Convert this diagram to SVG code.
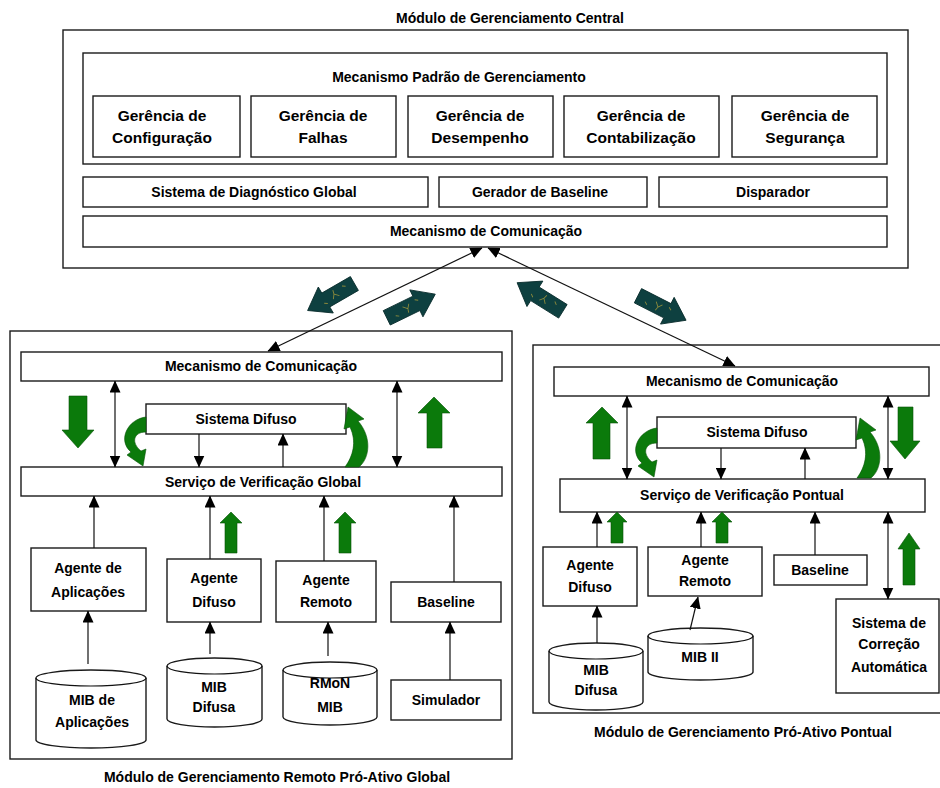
<svg xmlns="http://www.w3.org/2000/svg" width="940" height="788" viewBox="0 0 940 788">
  <style>
    .box { fill: #ffffff; stroke: #1a1a1a; stroke-width: 1.4; }
    .frame { fill: none; stroke: #1a1a1a; stroke-width: 1.4; }
    .lbl { font-family: "Liberation Sans", Arial, sans-serif; font-size: 14px; font-weight: bold; fill: #000; text-anchor: middle; }
    .big { font-size: 15.5px; }
    .ln { fill: none; stroke: #111; stroke-width: 1.2; }
    .g { fill: #0b7a0b; stroke: #075207; stroke-width: 0.6; }
    .dk { fill: #0e4040; stroke: #072a2a; stroke-width: 0.8; }
    .spk { fill: none; stroke: #8c8a3c; stroke-width: 0.9; }
  </style>
  <defs>
    <marker id="ah" markerUnits="userSpaceOnUse" markerWidth="12" markerHeight="11" viewBox="0 0 12 11" refX="11.5" refY="5.5" orient="auto-start-reverse">
      <path d="M0,0 L12,5.5 L0,11 Z" fill="#000"/>
    </marker>
    <g id="darr">
      <polygon class="dk" points="-27,-8 6,-8 6,-15 27,0 6,15 6,8 -27,8"/>
      <path class="spk" d="M-8,-3 L-4,1 L-1,-3 M-4,1 L-5,5 M6,-4 L9,-2 M-18,2 L-15,4"/>
    </g>
    <path id="curl-down" class="g" d="M146,417 C128,419 117,440 131,452 L127,455 L143,466 L146,449 L141,451 C131,443 133,432 146,432 Z"/>
    <path id="curl-up" class="g" d="M345,467 C353,456 357,442 350,427 L344,429 L348,407 L364,419 L358,421 C372,437 370,458 359,467 Z"/>
  </defs>

  <!-- Central management module -->
  <g id="central">
    <text class="lbl" x="510" y="23">Módulo de Gerenciamento Central</text>
    <rect class="frame" x="63" y="30" width="845" height="238"/>
  </g>
  <g id="padrao">
    <rect class="box" x="83" y="53" width="804" height="111"/>
    <text class="lbl" x="459" y="82">Mecanismo Padrão de Gerenciamento</text>
  </g>
  <g id="ger-config">
    <rect class="box" x="93" y="96" width="147" height="61"/>
    <text class="lbl big" x="162" y="121">Gerência de</text>
    <text class="lbl big" x="162" y="143">Configuração</text>
  </g>
  <g id="ger-falhas">
    <rect class="box" x="251" y="96" width="145" height="61"/>
    <text class="lbl big" x="323" y="121">Gerência de</text>
    <text class="lbl big" x="323" y="143">Falhas</text>
  </g>
  <g id="ger-desempenho">
    <rect class="box" x="408" y="96" width="145" height="61"/>
    <text class="lbl big" x="480" y="121">Gerência de</text>
    <text class="lbl big" x="480" y="143">Desempenho</text>
  </g>
  <g id="ger-contab">
    <rect class="box" x="564" y="96" width="155" height="61"/>
    <text class="lbl big" x="641" y="121">Gerência de</text>
    <text class="lbl big" x="641" y="143">Contabilização</text>
  </g>
  <g id="ger-seguranca">
    <rect class="box" x="732" y="96" width="145" height="61"/>
    <text class="lbl big" x="805" y="121">Gerência de</text>
    <text class="lbl big" x="805" y="143">Segurança</text>
  </g>
  <g id="diag-global">
    <rect class="box" x="83" y="177" width="345" height="30"/>
    <text class="lbl" x="254" y="197">Sistema de Diagnóstico Global</text>
  </g>
  <g id="gerador-baseline">
    <rect class="box" x="439" y="177" width="208" height="30"/>
    <text class="lbl" x="540" y="197">Gerador de Baseline</text>
  </g>
  <g id="disparador">
    <rect class="box" x="659" y="177" width="228" height="30"/>
    <text class="lbl" x="773" y="197">Disparador</text>
  </g>
  <g id="central-com">
    <rect class="box" x="83" y="216" width="804" height="31"/>
    <text class="lbl" x="486" y="236">Mecanismo de Comunicação</text>
  </g>

  <!-- Remote proactive global module -->
  <g id="remoto-global">
    <rect class="frame" x="10" y="331" width="502" height="428"/>
    <text class="lbl" x="277" y="782">Módulo de Gerenciamento Remoto Pró-Ativo Global</text>
  </g>
  <g id="rg-com">
    <rect class="box" x="21" y="352" width="481" height="29"/>
    <text class="lbl" x="261" y="371">Mecanismo de Comunicação</text>
  </g>
  <g id="rg-difuso">
    <rect class="box" x="146" y="404" width="200" height="30"/>
    <text class="lbl" x="246" y="424">Sistema Difuso</text>
  </g>
  <g id="rg-servico">
    <rect class="box" x="21" y="467" width="481" height="29"/>
    <text class="lbl" x="263" y="487">Serviço de Verificação Global</text>
  </g>
  <g id="rg-agente-apl">
    <rect class="box" x="31" y="548" width="115" height="63"/>
    <text class="lbl" x="88" y="573">Agente de</text>
    <text class="lbl" x="88" y="597">Aplicações</text>
  </g>
  <g id="rg-mib-apl">
    <path class="box" d="M36,678 A55,8 0 0 1 146,678 V740 A55,8 0 0 1 36,740 Z"/>
    <path class="ln" d="M36,678 A55,8 0 0 0 146,678" stroke-width="1.4"/>
    <text class="lbl" x="92" y="705">MIB de</text>
    <text class="lbl" x="92" y="727">Aplicações</text>
  </g>
  <g id="rg-agente-dif">
    <rect class="box" x="167" y="559" width="94" height="63"/>
    <text class="lbl" x="214" y="583">Agente</text>
    <text class="lbl" x="214" y="607">Difuso</text>
  </g>
  <g id="rg-mib-dif">
    <path class="box" d="M167,666 A47.5,8 0 0 1 262,666 V719 A47.5,8 0 0 1 167,719 Z"/>
    <path class="ln" d="M167,666 A47.5,8 0 0 0 262,666" stroke-width="1.4"/>
    <text class="lbl" x="214" y="692">MIB</text>
    <text class="lbl" x="214" y="712">Difusa</text>
  </g>
  <g id="rg-agente-rem">
    <rect class="box" x="276" y="561" width="100" height="61"/>
    <text class="lbl" x="326" y="585">Agente</text>
    <text class="lbl" x="326" y="607">Remoto</text>
  </g>
  <g id="rg-rmon">
    <path class="box" d="M283,670 A47,8 0 0 1 377,670 V717 A47,8 0 0 1 283,717 Z"/>
    <path class="ln" d="M283,670 A47,8 0 0 0 377,670" stroke-width="1.4"/>
    <text class="lbl" x="330" y="688">RMoN</text>
    <text class="lbl" x="330" y="712">MIB</text>
  </g>
  <g id="rg-baseline">
    <rect class="box" x="391" y="582" width="110" height="40"/>
    <text class="lbl" x="446" y="607">Baseline</text>
  </g>
  <g id="rg-simulador">
    <rect class="box" x="391" y="680" width="110" height="40"/>
    <text class="lbl" x="446" y="705">Simulador</text>
  </g>

  <!-- Proactive local module -->
  <g id="pontual">
    <rect class="frame" x="533" y="345" width="420" height="368"/>
    <text class="lbl" x="743" y="737">Módulo de Gerenciamento Pró-Ativo Pontual</text>
  </g>
  <g id="pp-com">
    <rect class="box" x="554" y="367" width="375" height="29"/>
    <text class="lbl" x="742" y="386">Mecanismo de Comunicação</text>
  </g>
  <g id="pp-difuso">
    <rect class="box" x="657" y="417" width="199" height="31"/>
    <text class="lbl" x="757" y="437">Sistema Difuso</text>
  </g>
  <g id="pp-servico">
    <rect class="box" x="560" y="479" width="365" height="33"/>
    <text class="lbl" x="742" y="500">Serviço de Verificação Pontual</text>
  </g>
  <g id="pp-agente-dif">
    <rect class="box" x="543" y="547" width="94" height="59"/>
    <text class="lbl" x="590" y="570">Agente</text>
    <text class="lbl" x="590" y="592">Difuso</text>
  </g>
  <g id="pp-mib-dif">
    <path class="box" d="M549,651 A47,8 0 0 1 643,651 V702 A47,8 0 0 1 549,702 Z"/>
    <path class="ln" d="M549,651 A47,8 0 0 0 643,651" stroke-width="1.4"/>
    <text class="lbl" x="596" y="675">MIB</text>
    <text class="lbl" x="596" y="695">Difusa</text>
  </g>
  <g id="pp-agente-rem">
    <rect class="box" x="648" y="547" width="114" height="49"/>
    <text class="lbl" x="705" y="565">Agente</text>
    <text class="lbl" x="705" y="586">Remoto</text>
  </g>
  <g id="pp-mib2">
    <path class="box" d="M648,636 A52.5,8 0 0 1 753,636 V672 A52.5,8 0 0 1 648,672 Z"/>
    <path class="ln" d="M648,636 A52.5,8 0 0 0 753,636" stroke-width="1.4"/>
    <text class="lbl" x="700" y="662">MIB II</text>
  </g>
  <g id="pp-baseline">
    <rect class="box" x="774" y="555" width="93" height="30"/>
    <text class="lbl" x="820" y="575">Baseline</text>
  </g>
  <g id="pp-correcao">
    <rect class="box" x="836" y="599" width="103" height="94"/>
    <text class="lbl" x="889" y="628">Sistema de</text>
    <text class="lbl" x="889" y="649">Correção</text>
    <text class="lbl" x="889" y="672">Automática</text>
  </g>

  <!-- Connectors -->
  <g id="connectors">
    <!-- central to modules -->
    <path class="ln" d="M268,351 L482,248" marker-start="url(#ah)" marker-end="url(#ah)" stroke-width="1"/>
    <path class="ln" d="M488,248 L735,366" marker-start="url(#ah)" marker-end="url(#ah)" stroke-width="1"/>

    <!-- remote global module -->
    <path class="ln" d="M115,381 V467" marker-start="url(#ah)" marker-end="url(#ah)"/>
    <path class="ln" d="M397,381 V467" marker-start="url(#ah)" marker-end="url(#ah)"/>
    <path class="ln" d="M199,434 V467" marker-end="url(#ah)"/>
    <path class="ln" d="M283,467 V434" marker-end="url(#ah)"/>
    <path class="ln" d="M94,548 V496" marker-end="url(#ah)"/>
    <path class="ln" d="M88,664 V611" marker-end="url(#ah)"/>
    <path class="ln" d="M210,559 V496" marker-end="url(#ah)"/>
    <path class="ln" d="M210,654 V622" marker-end="url(#ah)"/>
    <path class="ln" d="M324,561 V496" marker-end="url(#ah)"/>
    <path class="ln" d="M328,656 V622" marker-end="url(#ah)"/>
    <path class="ln" d="M454,582 V496" marker-end="url(#ah)"/>
    <path class="ln" d="M450,680 V622" marker-end="url(#ah)"/>

    <!-- proactive local module -->
    <path class="ln" d="M627,396 V479" marker-start="url(#ah)" marker-end="url(#ah)"/>
    <path class="ln" d="M888,396 V479" marker-start="url(#ah)" marker-end="url(#ah)"/>
    <path class="ln" d="M721,448 V479" marker-end="url(#ah)"/>
    <path class="ln" d="M805,479 V448" marker-end="url(#ah)"/>
    <path class="ln" d="M597,547 V512" marker-end="url(#ah)"/>
    <path class="ln" d="M597,643 V606" marker-end="url(#ah)"/>
    <path class="ln" d="M701,547 V512" marker-end="url(#ah)"/>
    <path class="ln" d="M690,630 L698,597" marker-end="url(#ah)"/>
    <path class="ln" d="M815,555 V512" marker-end="url(#ah)"/>
    <path class="ln" d="M888,512 V599" marker-start="url(#ah)" marker-end="url(#ah)"/>

    <!-- data flow block arrows between modules -->
    <use href="#darr" transform="translate(331,297) rotate(150)"/>
    <use href="#darr" transform="translate(411,306) rotate(-26)"/>
    <use href="#darr" transform="translate(540,297) rotate(212)"/>
    <use href="#darr" transform="translate(662,308) rotate(27)"/>

    <!-- green flow arrows, remote global module -->
    <polygon class="g" points="69,396 87,396 87,430 94,430 78,448 62,430 69,430"/>
    <polygon class="g" points="427,448 442,448 442,413 450,413 434,397 418,413 427,413"/>
    <use href="#curl-down"/>
    <use href="#curl-up"/>
    <polygon class="g" points="225,553 237,553 237,523 242,523 231,512 220,523 225,523"/>
    <polygon class="g" points="339,553 351,553 351,523 356,523 345,512 334,523 339,523"/>

    <!-- green flow arrows, proactive local module -->
    <polygon class="g" points="593,459 610,459 610,423 618,423 602,407 586,423 593,423"/>
    <polygon class="g" points="898,407 913,407 913,441 920,441 905,459 890,441 898,441"/>
    <use href="#curl-down" transform="translate(511,11)"/>
    <use href="#curl-up" transform="translate(512,11)"/>
    <polygon class="g" points="611,543 623,543 623,522 627,522 617,512 607,522 611,522"/>
    <polygon class="g" points="716,543 728,543 728,522 732,522 722,512 712,522 716,522"/>
    <polygon class="g" points="903,585 915,585 915,549 920,549 909,533 898,549 903,549"/>
  </g>
</svg>
